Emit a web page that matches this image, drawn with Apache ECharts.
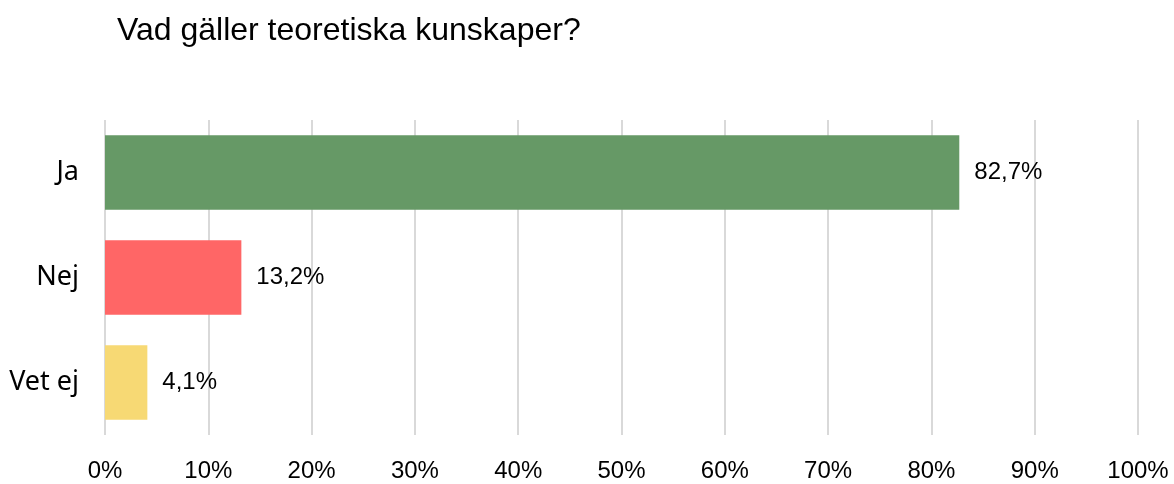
<!DOCTYPE html>
<html><head><meta charset="utf-8">
<script src="https://cdn.jsdelivr.net/npm/echarts@6/dist/echarts.min.js"></script>
<style>html,body{margin:0;padding:0;background:#fff}#c{width:1174px;height:484px}</style>
</head><body><div id="c"></div>
<script>
const categories = ['Ja', 'Nej', 'Vet ej'];
const values = [82.7, 13.2, 4.1];
const colors = ['#669966', '#ff6666', '#f7d974'];
const tickLabels = ['0%','10%','20%','30%','40%','50%','60%','70%','80%','90%','100%'];

const chart = echarts.init(document.getElementById('c'));
chart.setOption({
  animation: false,
  title: {
    text: 'Vad gäller teoretiska kunskaper?',
    left: 112, top: 10,
    textStyle: {fontFamily: 'Liberation Sans', fontSize: 32, fontWeight: 'normal', color: '#000'}
  },
  grid: {left: 105, right: 36, top: 120, bottom: 49, containLabel: false},
  xAxis: {
    type: 'value', min: 0, max: 100, interval: 10,
    axisLine: {show: false}, axisTick: {show: false},
    splitLine: {show: true, lineStyle: {color: '#d9d9d9', width: 2}},
    axisLabel: {
      margin: 24, fontFamily: 'Liberation Sans', fontSize: 24, color: '#000',
      formatter: v => tickLabels[Math.round(v / 10)]
    }
  },
  yAxis: {
    type: 'category', inverse: true, data: categories,
    axisLine: {show: false}, axisTick: {show: false},
    axisLabel: {margin: 26, fontFamily: 'Noto Sans', fontSize: 27, color: '#000'}
  },
  series: [{
    type: 'bar',
    barCategoryGap: '29%',
    data: values.map((v, i) => ({value: v, itemStyle: {color: colors[i]}})),
    label: {
      show: true, position: 'right', distance: 15,
      fontFamily: 'Liberation Sans', fontSize: 24, color: '#000',
      formatter: p => p.value.toFixed(1).replace('.', ',') + '%'
    }
  }]
});
</script></body></html>
